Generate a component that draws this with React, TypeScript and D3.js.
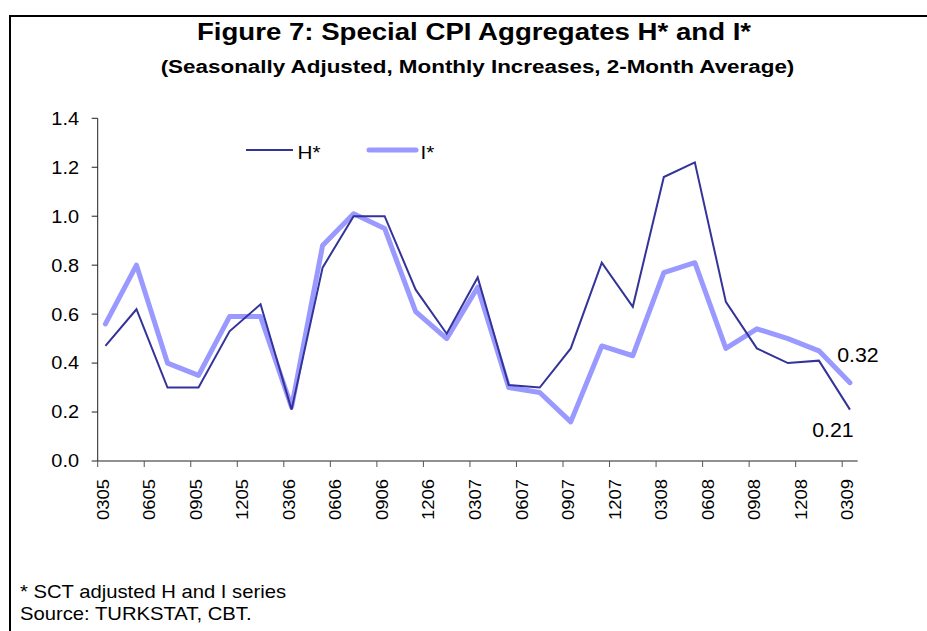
import React from 'react';
import * as d3 from 'd3';

// bimonthly periods (MMYY), 2-month averages
const periods = [
  '0305', '0505', '0705', '0905', '1105', '0106', '0306', '0506', '0706', '0906', '1106', '0107',
  '0307', '0507', '0707', '0907', '1107', '0108', '0308', '0508', '0708', '0908', '1108', '0109', '0309',
];
const hStar = [
  0.47, 0.62, 0.30, 0.30, 0.53, 0.64, 0.21, 0.79, 1.00, 1.00, 0.70, 0.52, 0.75,
  0.31, 0.30, 0.46, 0.81, 0.63, 1.16, 1.22, 0.65, 0.46, 0.40, 0.41, 0.21,
];
const iStar = [
  0.56, 0.80, 0.40, 0.35, 0.59, 0.59, 0.22, 0.88, 1.01, 0.95, 0.61, 0.50, 0.71,
  0.30, 0.28, 0.16, 0.47, 0.43, 0.77, 0.81, 0.46, 0.54, 0.50, 0.45, 0.32,
];
const tickLabels = [
  '0305', '0605', '0905', '1205', '0306', '0606', '0906', '1206', '0307',
  '0607', '0907', '1207', '0308', '0608', '0908', '1208', '0309',
];
const yTicks = [0, 0.2, 0.4, 0.6, 0.8, 1.0, 1.2, 1.4];

const W = 927;
const H = 631;
const font = 'Arial, "Liberation Sans", sans-serif';

// month index counted from March 2005
const monthIndex = (p: string) => (+p.slice(2) - 5) * 12 + (+p.slice(0, 2) - 3);

// the original text is drawn a little wider than Arial, so stretch along the run
type TProps = {
  x: number; y: number; size: number; k?: number; anchor?: string;
  rot?: number; bold?: boolean; children: React.ReactNode;
};
const T = ({ x, y, size, k = 1.1, anchor = 'start', rot = 0, bold = false, children }: TProps) => (
  <g transform={`translate(${x},${y}) rotate(${rot}) scale(${k},1)`}>
    <text textAnchor={anchor} fontSize={size} fontWeight={bold ? 'bold' : 'normal'}>{children}</text>
  </g>
);

const App: React.FC = () => {
  const x = d3.scaleLinear().domain([0, 49]).range([97.7, 857.7]);
  const y = d3.scaleLinear().domain([0, 1.4]).range([461, 118.3]);

  const line = d3.line<number>()
    .x((_, i) => x(monthIndex(periods[i]) + 0.5))
    .y(d => y(d));

  const last = periods.length - 1;
  const lastX = x(monthIndex(periods[last]) + 0.5);

  return (
    <svg width={W} height={H} style={{ position: 'absolute', left: 0, top: 0, background: '#fff' }} fontFamily={font}>
      <rect x={10} y={16} width={W + 10} height={H + 10} fill="#fff" stroke="#000" strokeWidth={2} />

      <T x={474} y={40} size={24} k={1.15} anchor="middle" bold>Figure 7: Special CPI Aggregates H* and I*</T>
      <T x={477.5} y={73} size={19} k={1.18} anchor="middle" bold>
        (Seasonally Adjusted, Monthly Increases, 2-Month Average)
      </T>

      {/* y axis */}
      <line x1={x(0)} x2={x(0)} y1={y(1.4)} y2={y(0)} stroke="#222" />
      {yTicks.map(t => (
        <g key={t}>
          <line x1={x(0) - 6} x2={x(0)} y1={y(t)} y2={y(t)} stroke="#222" />
          <T x={79} y={y(t) + 6.4} size={17.8} k={1.12} anchor="end">{t.toFixed(1)}</T>
        </g>
      ))}

      {/* x axis */}
      <line x1={x(0)} x2={x(49)} y1={y(0)} y2={y(0)} stroke="#222" />
      {tickLabels.map(lab => {
        const m = monthIndex(lab);
        const cx = x(m + 0.5);
        return (
          <g key={lab}>
            <line x1={x(m)} x2={x(m)} y1={y(0)} y2={y(0) + 6} stroke="#555" />
            <T x={cx + 3.3} y={y(0) + 18} size={16.5} k={1.12} rot={-90} anchor="end">{lab}</T>
          </g>
        );
      })}

      {/* series */}
      <path d={line(iStar) ?? ''} fill="none" stroke="#9999FF" strokeWidth={5} strokeLinejoin="round" strokeLinecap="round" />
      <path d={line(hStar) ?? ''} fill="none" stroke="#333399" strokeWidth={2} />

      {/* end labels */}
      <T x={lastX + 8} y={y(iStar[last]) - 21} size={19.4} anchor="middle">{iStar[last].toFixed(2)}</T>
      <T x={lastX - 17} y={y(hStar[last]) + 27} size={19.4} anchor="middle">{hStar[last].toFixed(2)}</T>

      {/* legend */}
      <line x1={246} x2={293} y1={150} y2={150} stroke="#333399" strokeWidth={2} />
      <T x={297.5} y={158.5} size={18.8}>H*</T>
      <line x1={369} x2={416} y1={150} y2={150} stroke="#9999FF" strokeWidth={5} strokeLinecap="round" />
      <T x={420.5} y={158.5} size={18.8}>I*</T>

      {/* notes */}
      <T x={20} y={598} size={18.4}>* SCT adjusted H and I series</T>
      <T x={20} y={620} size={18.4}>Source: TURKSTAT, CBT.</T>
    </svg>
  );
};

export default App;
